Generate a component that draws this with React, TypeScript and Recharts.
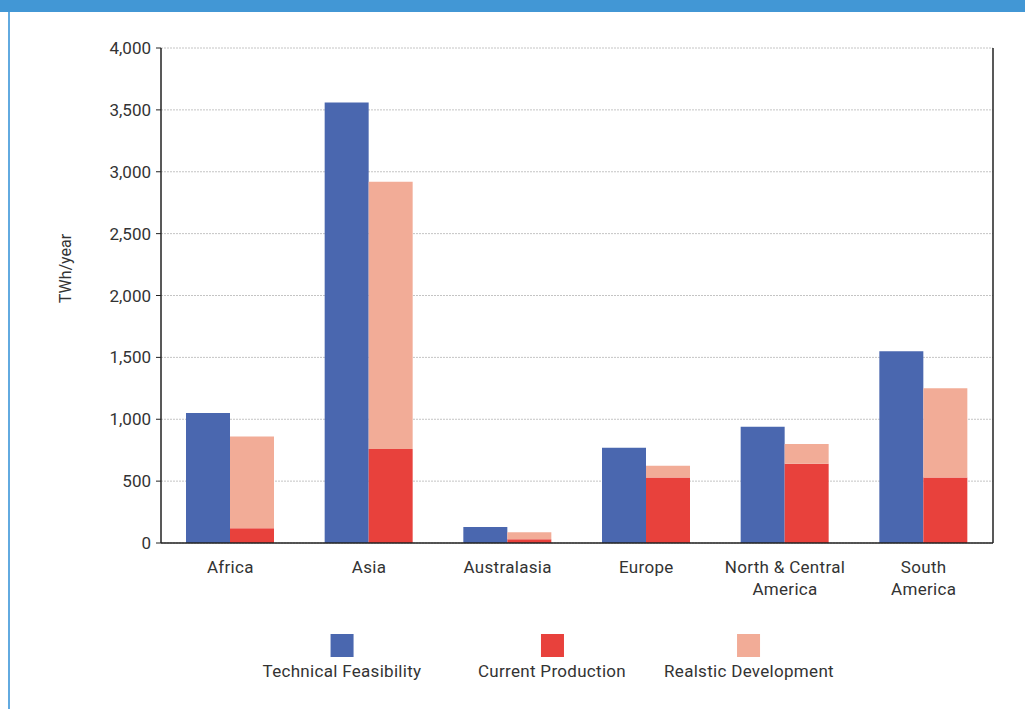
import React from "react";
import { Bar, BarChart, CartesianGrid, XAxis, YAxis } from "recharts";

// regions (newline = where the label wraps under the axis)
const regions = ["Africa", "Asia", "Australasia", "Europe", "North & Central\nAmerica", "South\nAmerica"];

// TWh/year
const technicalFeasibility = [1050, 3560, 130, 770, 940, 1550];
const currentProduction = [120, 760, 30, 530, 640, 530];
const realisticDevelopment = [860, 2920, 87, 625, 800, 1250];

const yTicks = [0, 500, 1000, 1500, 2000, 2500, 3000, 3500, 4000];

const BLUE = "#4A67AF";
const RED = "#E8413C";
const PINK = "#F2AC97";
const FONT = "Roboto, sans-serif";

const legendItems = [
  { name: "Technical Feasibility", color: BLUE, center: 342 },
  { name: "Current Production", color: RED, center: 552 },
  { name: "Realstic Development", color: PINK, center: 749 },
];

// realistic bar is drawn behind the current one, so stack the remainder on top
const data = regions.map((r, i) => ({
  region: r,
  feasibility: technicalFeasibility[i],
  current: currentProduction[i],
  realisticRest: realisticDevelopment[i] - currentProduction[i],
}));

const fmt = (v: number) => (v === 0 ? "0" : v.toLocaleString("en-US"));

function RegionTick(props: any) {
  const { x, y, payload } = props;
  const lines = String(payload.value).split("\n");
  return (
    <text x={x} y={y + 22} textAnchor="middle" fill="#333" fontSize={17} fontFamily={FONT} letterSpacing={0.3}>
      {lines.map((l, i) => (
        <tspan key={i} x={x} dy={i === 0 ? 0 : 22}>
          {l}
        </tspan>
      ))}
    </text>
  );
}

export default function App() {
  return (
    <div style={{ position: "absolute", left: 0, top: 0, width: 1025, height: 709, background: "#fff", overflow: "hidden" }}>
      <div style={{ position: "absolute", left: 0, top: 0, width: 1025, height: 12, background: "#4297D5" }} />
      <div style={{ position: "absolute", left: 8, top: 12, width: 2, height: 697, background: "#62AAE0" }} />

      <BarChart
        width={1025}
        height={709}
        data={data}
        margin={{ top: 48, right: 31, left: 101, bottom: 106 }}
        barGap={0}
        barCategoryGap={25}
        style={{ position: "absolute", left: 0, top: 0 }}
      >
        <CartesianGrid vertical={false} stroke="#C4C4C4" strokeDasharray="2 1" yAxisId="left" />
        <XAxis
          dataKey="region"
          height={60}
          tick={<RegionTick />}
          tickLine={false}
          axisLine={{ stroke: "#222", strokeWidth: 1.5 }}
          interval={0}
        />
        <YAxis
          yAxisId="left"
          width={60}
          domain={[0, 4000]}
          ticks={yTicks}
          tickFormatter={fmt}
          tick={{ fill: "#333", fontSize: 17, fontFamily: FONT }}
          tickSize={5}
          tickMargin={5}
          tickLine={{ stroke: "#222" }}
          axisLine={{ stroke: "#222", strokeWidth: 1.5 }}
          label={{
            value: "TWh/year",
            angle: -90,
            position: "insideLeft",
            offset: -36,
            dy: -27,
            style: { fill: "#333", fontSize: 16, fontFamily: FONT, textAnchor: "middle" },
          }}
        />
        <YAxis
          yAxisId="right"
          orientation="right"
          width={1}
          domain={[0, 4000]}
          tick={false}
          tickLine={false}
          axisLine={{ stroke: "#222", strokeWidth: 1.5 }}
        />
        <Bar yAxisId="left" dataKey="feasibility" stackId="f" fill={BLUE} isAnimationActive={false} />
        <Bar yAxisId="left" dataKey="current" stackId="r" fill={RED} isAnimationActive={false} />
        <Bar yAxisId="left" dataKey="realisticRest" stackId="r" fill={PINK} isAnimationActive={false} />
      </BarChart>

      {legendItems.map((it) => (
        <div
          key={it.name}
          style={{
            position: "absolute",
            left: it.center,
            top: 634,
            transform: "translateX(-50%)",
            display: "flex",
            flexDirection: "column",
            alignItems: "center",
            fontFamily: FONT,
            fontSize: 17,
            letterSpacing: 0.3,
            color: "#333",
            whiteSpace: "nowrap",
          }}
        >
          <div style={{ width: 23, height: 23, background: it.color }} />
          <div style={{ marginTop: 4 }}>{it.name}</div>
        </div>
      ))}
    </div>
  );
}
